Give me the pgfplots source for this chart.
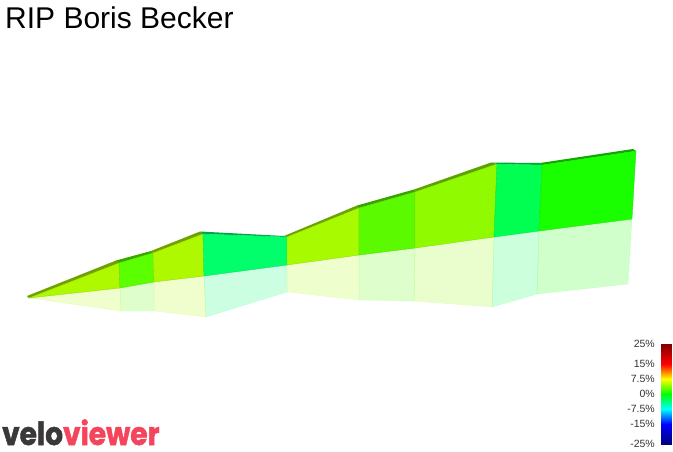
\documentclass[border=0pt]{standalone}
\usepackage{pgfplots}
\pgfplotsset{compat=1.18}
\usepackage{fontspec}
\setmainfont{Liberation Sans}
\newfontfamily\logofont[BoldFeatures={FakeBold=1.6}]{Poppins}

% segment colours by gradient
\definecolor{segA}{RGB}{174,248,0}
\definecolor{segB}{RGB}{92,255,0}
\definecolor{segC}{RGB}{174,248,0}
\definecolor{segD}{RGB}{0,255,106}
\definecolor{segE}{RGB}{168,250,0}
\definecolor{segF}{RGB}{92,250,0}
\definecolor{segG}{RGB}{144,250,0}
\definecolor{segH}{RGB}{0,255,80}
\definecolor{segI}{RGB}{26,255,0}
\definecolor{vvdark}{RGB}{58,56,56}
\definecolor{vvred}{RGB}{244,69,92}
\definecolor{cbtext}{RGB}{51,51,51}

\newcommand{\vvwall}[2]{\addplot[fill=#1,draw=#1!85!black,line width=0.3pt] coordinates {#2} -- cycle;}
\newcommand{\vvstrip}[2]{\addplot[fill=#1!65!black,draw=none] coordinates {#2} -- cycle;}
\newcommand{\vvshadow}[2]{\addplot[fill=#1,draw=#1,opacity=0.2,line width=0.3pt] coordinates {#2} -- cycle;}

\begin{document}
\begin{tikzpicture}
\begin{axis}[
    name=profile,
    at={(0pt,0pt)}, anchor=south west,
    scale only axis, width=673pt, height=451pt,
    xmin=0, xmax=673, ymin=0, ymax=451, y dir=reverse,
    hide axis, clip=false]
  % reflection under the course
  \vvshadow{segA}{(29,298) (120,288) (121,311)}
  \vvshadow{segB}{(120,288) (154,282) (154,311) (121,311)}
  \vvshadow{segC}{(154,282) (204,276) (206,317) (154,311)}
  \vvshadow{segD}{(204,276) (287,265) (287,292) (206,317)}
  \vvshadow{segE}{(287,265) (359,255) (359,300) (287,292)}
  \vvshadow{segF}{(359,255) (415,248) (414,301) (359,300)}
  \vvshadow{segG}{(415,248) (494,237) (492,307) (414,301)}
  \vvshadow{segH}{(494,237) (539,231) (537,294) (492,307)}
  \vvshadow{segI}{(539,231) (632,219) (628,284) (537,294)}
  % top surface, back edge
  \vvstrip{segA}{(27,296) (116,260.5) (119,263) (29,298)}
  \vvstrip{segB}{(116,260.5) (151,251) (153,253) (119,263)}
  \vvstrip{segC}{(151,251) (200,231.5) (203,234) (153,253)}
  \vvstrip{segD}{(200,231.5) (284,236) (287,237) (203,234)}
  \vvstrip{segE}{(284,236) (357,205.5) (359,208) (287,237)}
  \vvstrip{segF}{(357,205.5) (414,189.5) (415,192) (359,208)}
  \vvstrip{segG}{(414,189.5) (491,162.5) (497,164) (415,192)}
  \vvstrip{segH}{(491,162.5) (540,163) (542,165) (497,164)}
  \vvstrip{segI}{(540,163) (633,149) (636,151) (542,165)}
  % walls
  \vvwall{segA}{(29,298) (119,263) (120,288)}
  \vvwall{segB}{(119,263) (153,253) (154,282) (120,288)}
  \vvwall{segC}{(153,253) (203,234) (204,276) (154,282)}
  \vvwall{segD}{(203,234) (287,237) (287,265) (204,276)}
  \vvwall{segE}{(287,237) (359,208) (359,255) (287,265)}
  \vvwall{segF}{(359,208) (415,192) (415,248) (359,255)}
  \vvwall{segG}{(415,192) (497,164) (494,237) (415,248)}
  \vvwall{segH}{(497,164) (542,165) (539,231) (494,237)}
  \vvwall{segI}{(542,165) (636,151) (632,219) (539,231)}
  % text
  \node[anchor=base west,font=\fontsize{30}{30}\selectfont,inner sep=0pt] at (axis cs:5,28) {RIP Boris Becker};
  \node[anchor=base west,inner sep=0pt,font=\logofont\bfseries\fontsize{32}{32}\selectfont,xscale=0.875] at (axis cs:2,445) {\textcolor{vvdark}{velo}\textcolor{vvred}{viewer}};
\end{axis}
\begin{axis}[
    at={(661pt,7pt)}, anchor=south west,
    scale only axis, width=10pt, height=100pt,
    xmin=0, xmax=1, ymin=-25, ymax=25,
    axis line style={draw=none}, xtick=\empty,
    ytick={-25,-15,-7.5,0,7.5,15,25},
    yticklabels={-25\%,-15\%,-7.5\%,0\%,7.5\%,15\%,25\%},
    tick style={draw=none},
    yticklabel style={font=\fontsize{10.5}{10.5}\selectfont,text=cbtext,inner sep=0pt,xshift=-6pt},
    colormap={vv}{rgb255(0pt)=(0,0,128); rgb255(20pt)=(0,0,255); rgb255(35pt)=(0,255,255); rgb255(50pt)=(0,255,0); rgb255(65pt)=(255,255,0); rgb255(80pt)=(255,0,0); rgb255(100pt)=(128,0,0)},
    point meta min=-25, point meta max=25]
  \addplot[surf,shader=interp,point meta=y,mesh/rows=7] coordinates {
    (0,-25) (1,-25)
    (0,-15) (1,-15)
    (0,-7.5) (1,-7.5)
    (0,0) (1,0)
    (0,7.5) (1,7.5)
    (0,15) (1,15)
    (0,25) (1,25)};
\end{axis}
\path[use as bounding box] (0pt,0pt) rectangle (673pt,451pt);
\end{tikzpicture}
\end{document}
